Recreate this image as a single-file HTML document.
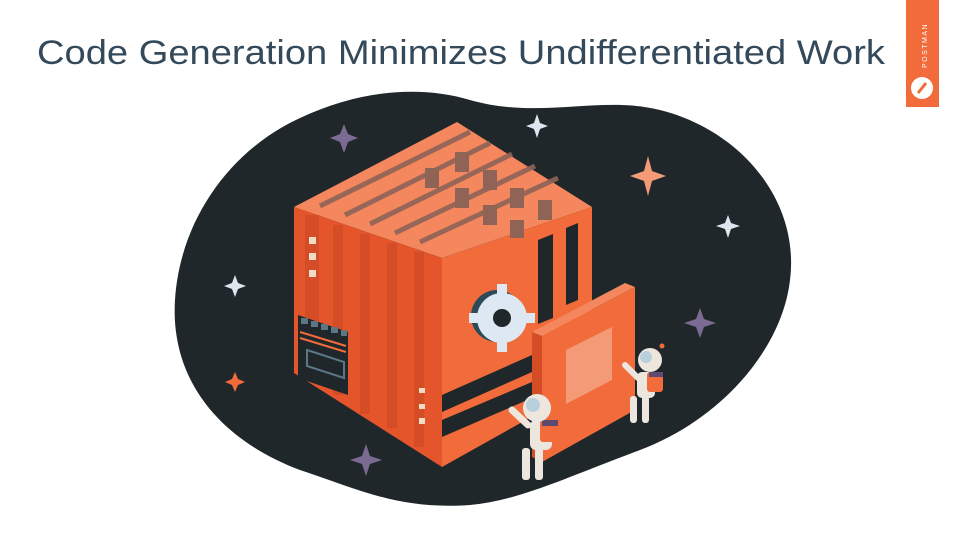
<!DOCTYPE html>
<html><head><meta charset="utf-8"><style>
html,body{margin:0;padding:0;background:#fff;width:960px;height:540px;overflow:hidden}
</style></head><body>
<svg width="960" height="540" viewBox="0 0 960 540" xmlns="http://www.w3.org/2000/svg">
<text x="37" y="64" font-family="Liberation Sans, sans-serif" font-size="34" fill="#34495a" textLength="848" lengthAdjust="spacingAndGlyphs">Code Generation Minimizes Undifferentiated Work</text>
<!-- postman tab -->
<rect x="906" y="0" width="33" height="107" fill="#f26b3a"/>
<circle cx="922" cy="88" r="11" fill="#fff"/>
<line x1="918" y1="93" x2="926" y2="83" stroke="#f26b3a" stroke-width="3"/>
<text transform="translate(927,68) rotate(-90)" font-family="Liberation Sans, sans-serif" font-size="7" fill="#fff" letter-spacing="1.5">POSTMAN</text>
<!-- blob -->
<path d="M300,118 C360,90 420,85 470,100 C540,120 600,95 660,110 C740,130 800,200 790,280 C782,350 720,420 640,450 C560,480 520,500 470,505 C400,510 360,490 300,470 C220,440 170,380 175,300 C180,220 230,150 300,118 Z" fill="#1f272b"/>
<!-- stars -->
<g>
<path d="M344,124 L348,134 L358,138 L348,142 L344,153 L340,142 L330,138 L340,134Z" fill="#7b6b92"/>
<path d="M537,114 L540,123 L548,126 L540,129 L537,138 L534,129 L526,126 L534,123Z" fill="#dde6ef"/>
<path d="M648,156 L652,171 L666,176 L652,181 L648,196 L644,181 L630,176 L644,171Z" fill="#f59a76"/>
<path d="M728,215 L731,223 L740,226 L731,229 L728,238 L725,229 L716,226 L725,223Z" fill="#dde6ef"/>
<path d="M235,275 L238,283 L246,286 L238,289 L235,297 L232,289 L224,286 L232,283Z" fill="#dde6ef"/>
<path d="M700,308 L704,319 L716,323 L704,327 L700,338 L696,327 L684,323 L696,319Z" fill="#7b6b92"/>
<path d="M235,372 L238,379 L245,382 L238,385 L235,392 L232,385 L225,382 L232,379Z" fill="#f26b3a"/>
<path d="M366,444 L370,456 L382,460 L370,464 L366,476 L362,464 L350,460 L362,456Z" fill="#7b6b92"/>
</g>
<!-- cube -->
<polygon points="294,207 457,122 592,207 442,258" fill="#f4875e"/>
<polygon points="294,207 442,258 442,467 294,373" fill="#e4552c"/>
<polygon points="442,258 592,207 592,383 442,467" fill="#f26b3a"/>
<!-- top stripes -->
<g stroke="#8f6356" stroke-width="5" opacity="0.9">
<line x1="320" y1="206" x2="470" y2="132"/>
<line x1="345" y1="215" x2="490" y2="143"/>
<line x1="370" y1="224" x2="512" y2="154"/>
<line x1="395" y1="233" x2="535" y2="166"/>
<line x1="420" y1="242" x2="558" y2="178"/>
</g>
<g fill="#8f6356">
<rect x="425" y="168" width="14" height="20"/><rect x="455" y="152" width="14" height="20"/>
<rect x="455" y="188" width="14" height="20"/><rect x="483" y="170" width="14" height="20"/>
<rect x="483" y="205" width="14" height="20"/><rect x="510" y="188" width="14" height="20"/>
<rect x="510" y="220" width="14" height="18"/><rect x="538" y="200" width="14" height="20"/>
</g>
<!-- left face vertical stripes -->
<g fill="#d44d27">
<rect x="305" y="215" width="14" height="165"/>
<rect x="333" y="225" width="10" height="170"/>
<rect x="360" y="234" width="10" height="180"/>
<rect x="387" y="243" width="10" height="185"/>
<rect x="414" y="252" width="10" height="195"/>
</g>
<g fill="#f1dcc6"><rect x="309" y="237" width="7" height="7"/><rect x="309" y="253" width="7" height="7"/><rect x="309" y="270" width="7" height="7"/>
<rect x="419" y="388" width="6" height="5"/><rect x="419" y="404" width="6" height="5"/><rect x="419" y="418" width="6" height="6"/></g>
<polygon points="298,315 348,332 348,395 298,378" fill="#1f272b"/>
<g fill="#5c7684"><rect x="301" y="318" width="7" height="6"/><rect x="311" y="321" width="7" height="6"/><rect x="321" y="324" width="7" height="6"/><rect x="331" y="327" width="7" height="6"/><rect x="341" y="330" width="6" height="6"/></g>
<line x1="300" y1="332" x2="346" y2="346" stroke="#f26b3a" stroke-width="2"/>
<line x1="300" y1="338" x2="346" y2="352" stroke="#f26b3a" stroke-width="2"/>
<polygon points="307,350 344,362 344,378 307,366" fill="none" stroke="#5c7684" stroke-width="2"/>
<!-- right face dark bars -->
<polygon points="538,240 553,234 553,318 538,324" fill="#1f272b"/>
<polygon points="566,228 578,223 578,300 566,305" fill="#1f272b"/>
<polygon points="442,395 532,355 532,372 442,412" fill="#1f272b"/>
<polygon points="442,420 532,382 532,398 442,437" fill="#1f272b"/>
<!-- gear -->
<g transform="translate(497,316)">
<circle r="26" fill="#2c4a5a"/>
<g fill="#dde8f2">
<circle cx="5" cy="2" r="25"/>
</g>
<g fill="#dde8f2">
<rect x="0" y="-32" width="10" height="12"/><rect x="0" y="24" width="10" height="12"/>
<rect x="-28" y="-3" width="12" height="10"/><rect x="26" y="-3" width="12" height="10"/>
</g>
<circle cx="5" cy="2" r="9" fill="#1f272b"/>
</g>
<!-- panel -->
<polygon points="532,332 625,283 635,287 542,336" fill="#f4875e"/>
<polygon points="532,332 542,336 542,462 532,457" fill="#d44d27"/>
<polygon points="542,336 635,287 635,410 542,462" fill="#f26b3a"/>
<polygon points="566,350 612,327 612,380 566,404" fill="#f59a76"/>
<!-- astronaut 1 -->
<g>
<path d="M512,410 L528,425" stroke="#ece6de" stroke-width="7" stroke-linecap="round"/>
<rect x="530" y="420" width="22" height="30" rx="6" fill="#ece6de"/>
<rect x="540" y="420" width="18" height="22" rx="3" fill="#f26b3a"/>
<rect x="542" y="420" width="16" height="6" fill="#5c4a70"/>
<circle cx="537" cy="408" r="14" fill="#ece6de"/>
<circle cx="533" cy="405" r="7" fill="#b8cfdc"/>
<rect x="522" y="448" width="8" height="32" rx="3" fill="#ece6de"/>
<rect x="535" y="448" width="8" height="32" rx="3" fill="#ece6de"/>
</g>
<!-- astronaut 2 -->
<g>
<path d="M625,365 L638,378" stroke="#ece6de" stroke-width="6" stroke-linecap="round"/>
<rect x="637" y="372" width="18" height="26" rx="5" fill="#ece6de"/>
<rect x="647" y="372" width="16" height="20" rx="3" fill="#f26b3a"/>
<rect x="649" y="372" width="14" height="5" fill="#5c4a70"/>
<circle cx="650" cy="360" r="12" fill="#ece6de"/>
<circle cx="646" cy="357" r="6" fill="#b8cfdc"/>
<circle cx="662" cy="346" r="2.5" fill="#f26b3a"/>
<rect x="630" y="396" width="7" height="27" rx="3" fill="#ece6de"/>
<rect x="642" y="396" width="7" height="27" rx="3" fill="#ece6de"/>
</g>
</svg>
</body></html>
